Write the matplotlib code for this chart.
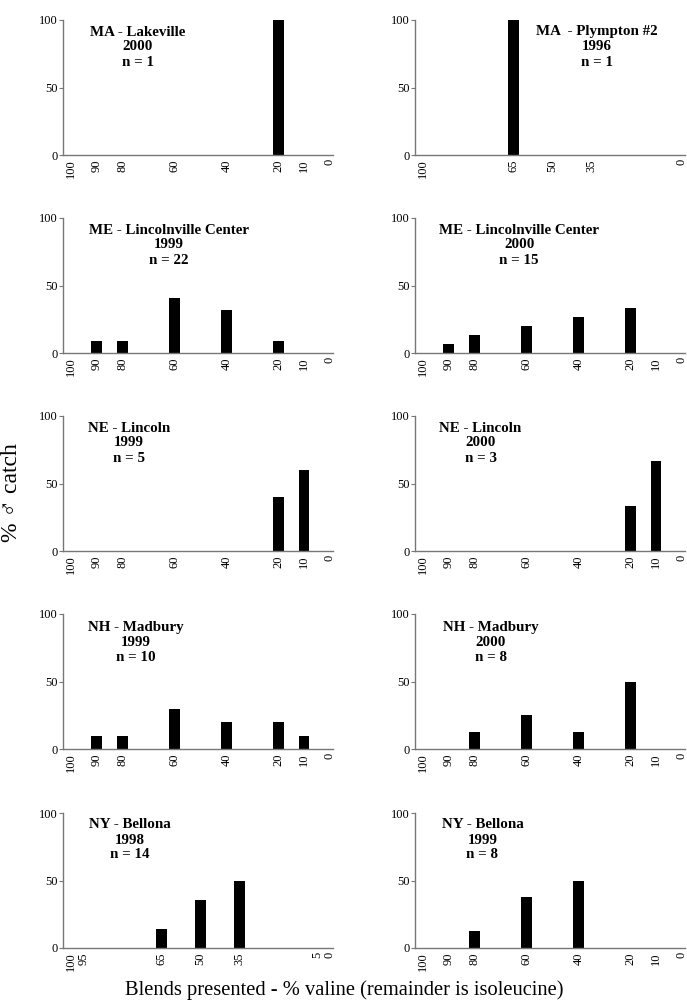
import matplotlib
matplotlib.use("Agg")
import matplotlib.pyplot as plt

plt.rcParams['font.family'] = ['Liberation Serif', 'DejaVu Serif']

# ---- data ----
titles = [
    "MA - Lakeville\n2000\nn = 1",
    "MA  - Plympton #2\n1996\nn = 1",
    "ME - Lincolnville Center\n1999\nn = 22",
    "ME - Lincolnville Center\n2000\nn = 15",
    "NE - Lincoln\n1999\nn = 5",
    "NE - Lincoln\n2000\nn = 3",
    "NH - Madbury\n1999\nn = 10",
    "NH - Madbury\n2000\nn = 8",
    "NY - Bellona\n1998\nn = 14",
    "NY - Bellona\n1999\nn = 8",
]
standard_ticks = [100, 90, 80, 60, 40, 20, 10, 0]
plympton_ticks = [100, 65, 50, 35, 0]
bellona98_ticks = [100, 95, 65, 50, 35, 5, 0]
tick_sets = [standard_ticks, plympton_ticks, standard_ticks, standard_ticks,
             standard_ticks, standard_ticks, standard_ticks, standard_ticks,
             bellona98_ticks, standard_ticks]

blends_ma_lake = [20]
catch_ma_lake = [100]
blends_ma_plym = [65]
catch_ma_plym = [100]
blends_me_99 = [90, 80, 60, 40, 20]
catch_me_99 = [9.1, 9.1, 40.9, 31.8, 9.1]
blends_me_00 = [90, 80, 60, 40, 20]
catch_me_00 = [6.7, 13.3, 20.0, 26.7, 33.3]
blends_ne_99 = [20, 10]
catch_ne_99 = [40, 60]
blends_ne_00 = [20, 10]
catch_ne_00 = [33.3, 66.7]
blends_nh_99 = [90, 80, 60, 40, 20, 10]
catch_nh_99 = [10, 10, 30, 20, 20, 10]
blends_nh_00 = [80, 60, 40, 20]
catch_nh_00 = [12.5, 25, 12.5, 50]
blends_ny_98 = [65, 50, 35]
catch_ny_98 = [14.3, 35.7, 50]
blends_ny_99 = [80, 60, 40]
catch_ny_99 = [12.5, 37.5, 50]

blends = [blends_ma_lake, blends_ma_plym, blends_me_99, blends_me_00,
          blends_ne_99, blends_ne_00, blends_nh_99, blends_nh_00,
          blends_ny_98, blends_ny_99]
catches = [catch_ma_lake, catch_ma_plym, catch_me_99, catch_me_00,
           catch_ne_99, catch_ne_00, catch_nh_99, catch_nh_00,
           catch_ny_98, catch_ny_99]

# title positions (axes fraction)
title_pos = [(0.278, 0.80), (0.673, 0.80), (0.393, 0.80), (0.386, 0.80),
             (0.244, 0.80), (0.243, 0.80), (0.270, 0.79), (0.280, 0.79),
             (0.248, 0.80), (0.250, 0.80)]

W, H = 687, 1008
fig = plt.figure(figsize=(W / 100, H / 100), dpi=100)

col_left_px = [63, 415]
axw_px = 270
row_bottom_px = [155, 353, 551, 749, 948]
axh_px = 135
spine_col = "#777777"

for i in range(10):
    r, c = divmod(i, 2)
    left = col_left_px[c] / W
    bottom = 1 - row_bottom_px[r] / H
    ax = fig.add_axes([left, bottom, axw_px / W, axh_px / H])
    ax.bar(blends[i], catches[i], width=4.2, color="black", edgecolor="black", linewidth=0)
    ax.set_xlim(103.1, -1.2)
    ax.set_ylim(0, 100)
    ax.set_yticks([0, 50, 100])
    ax.set_yticklabels(["0", "50", "100"])
    ax.set_xticks(tick_sets[i])
    ax.set_xticklabels([str(t) for t in tick_sets[i]], rotation=90)
    ax.tick_params(axis='y', length=3, width=0.8, color=spine_col, pad=1, labelsize=9)
    ax.tick_params(axis='x', length=0, pad=3, labelsize=9)
    for s in ("top", "right"):
        ax.spines[s].set_visible(False)
    for s in ("left", "bottom"):
        ax.spines[s].set_color(spine_col)
        ax.spines[s].set_linewidth(1.0)
    tx, ty = title_pos[i]
    ax.text(tx, ty, titles[i], transform=ax.transAxes, ha='center', va='center',
            multialignment='center', fontsize=10.8, fontweight='bold', linespacing=1.2)

fig.text(12 / W, 1 - 493 / H, "% \u2642 catch", rotation=90, ha='center', va='center',
         fontsize=17)
fig.text(344 / W, 1 - 990 / H, "Blends presented - % valine (remainder is isoleucine)",
         ha='center', va='center', fontsize=14.8)

fig.savefig("out.png", dpi=100)
